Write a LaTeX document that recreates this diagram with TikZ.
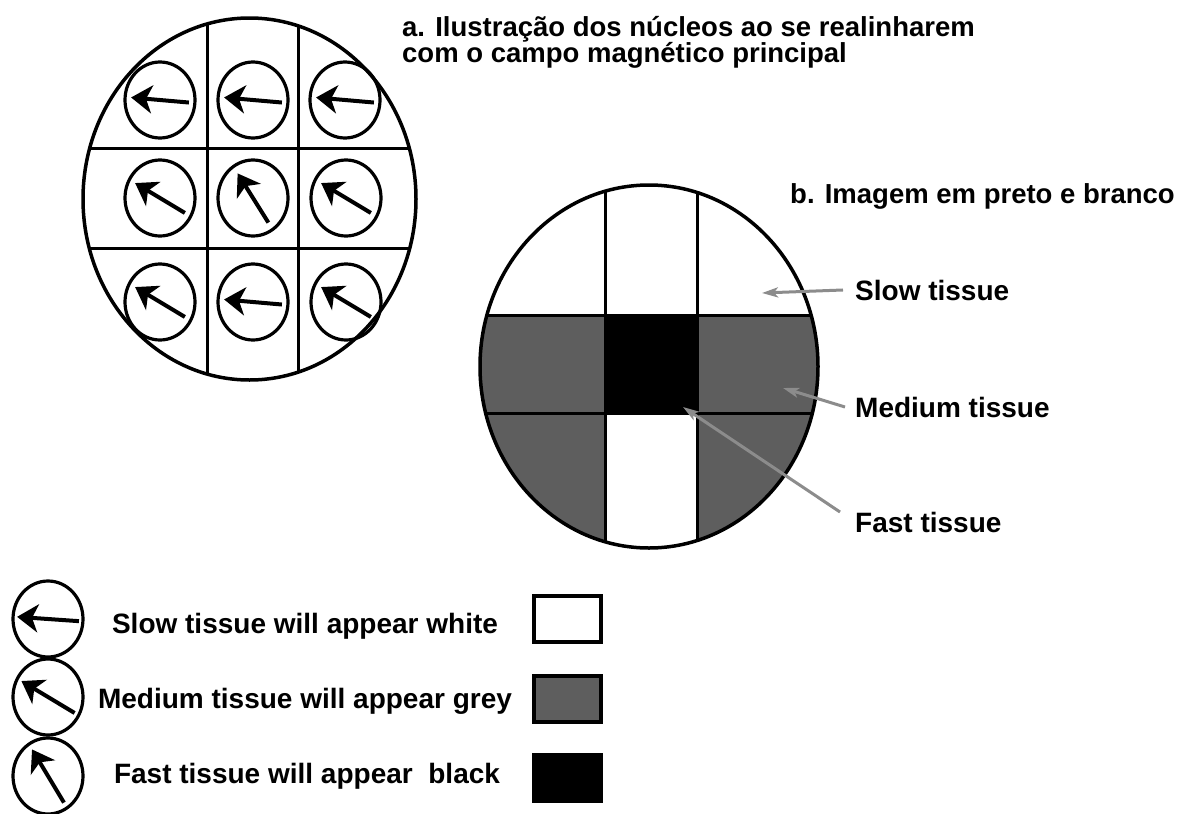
\documentclass[tikz,border=0pt]{standalone}
\usepackage{fontspec}
\setmainfont{Liberation Sans}
\usepackage{tikz}
\usetikzlibrary{arrows.meta,positioning,shapes.geometric,calc}
\definecolor{tissuegrey}{gray}{0.37}
\definecolor{pointergrey}{gray}{0.55}

\begin{document}
\begin{tikzpicture}[x=1pt,y=-1pt,every node/.style={font=\bfseries\fontsize{28}{32}\selectfont,inner sep=0pt},title/.style={font=\bfseries\fontsize{27.5}{26}\selectfont,align=left},disc/.style={draw,ellipse,line width=3.5pt},spin/.style={draw,ellipse,line width=3.2pt,minimum width=70,minimum height=76},spinarrow/.style={-{Stealth[length=21pt,width=28pt,inset=6pt]},line width=4pt},cellline/.style={line width=3pt},keybox/.style={draw,line width=4pt,minimum width=67,minimum height=46},pointer/.style={-{Stealth[length=16pt,width=10pt,inset=4pt]},line width=3pt,pointergrey}]
\path[use as bounding box,fill=white] (0,0) rectangle (1189,814);
% a. nuclei aligning
\begin{scope}
\clip (249.5,199) ellipse [x radius=166.5pt, y radius=181pt];
\draw[cellline] (207,0) -- (207,400) (298,0) -- (298,400) (60,148) -- (440,148) (60,248) -- (440,248);
\end{scope}
\node[disc,minimum width=333,minimum height=362] (imgA) at (249.5,199) {};
\foreach \n/\px/\py/\ang in {1/160/100/175,2/253/100/175,3/345/100/175,4/160/198/149,5/253/198/122,6/346/198/149,7/160/302/149,8/253/302/175,9/346/302/149}{
  \node[spin] (s\n) at (\px,\py) {};
  \draw[spinarrow] ($(s\n.center)+(\ang+180:29pt)$) -- ($(s\n.center)+(\ang:29pt)$);
}
\node[title,anchor=north west] (ta) at (402,16) {a. Ilustração dos núcleos ao se realinharem\\com o campo magnético principal};
% b. black and white image
\begin{scope}
\clip (649,366.5) ellipse [x radius=169pt, y radius=181.5pt];
\fill[tissuegrey] (470,315) rectangle (830,560);
\fill[black] (605,315) rectangle (697,413);
\fill[white] (605,413) rectangle (697,560);
\draw[cellline] (605,180) -- (605,560) (697,180) -- (697,560) (470,315) -- (830,315) (470,413) -- (830,413);
\end{scope}
\node[disc,minimum width=338,minimum height=363] (imgB) at (649,366.5) {};
\node[title,anchor=base west] (tb) at (790,203) {b. Imagem em preto e branco};
\node[anchor=base west] (slow) at (855,300) {Slow tissue};
\node[anchor=base west] (medium) at (855,417) {Medium tissue};
\node[anchor=base west] (fast) at (855,532) {Fast tissue};
\coordinate (slowpt) at (762,293);
\coordinate (medpt) at (783,388);
\coordinate (fastpt) at (683,407);
\draw[pointer] ([xshift=-12pt]slow.west) -- (slowpt);
\draw[pointer] ([xshift=-10pt]medium.west) -- (medpt);
\draw[pointer] ([xshift=-15pt,yshift=10pt]fast.west) -- (fastpt);
% legend
\foreach \n/\py/\ang in {1/619/176,2/697/149,3/776/121}{
  \node[spin] (k\n) at (48,\py) {};
  \draw[spinarrow] ($(k\n.center)+(\ang+180:31pt)$) -- ($(k\n.center)+(\ang:31pt)$);
}
\node[anchor=base] (kt1) at (305,633) {Slow tissue will appear white};
\node[anchor=base] (kt2) at (305,708) {Medium tissue will appear grey};
\node[anchor=base] (kt3) at (307,783) {Fast tissue will appear~ black};
\node[keybox,fill=white] (kb1) at (567.5,619) {};
\node[keybox,fill=tissuegrey] (kb2) at (567.5,698.5) {};
\node[keybox,fill=black] (kb3) at (567.5,778) {};
\end{tikzpicture}
\end{document}
